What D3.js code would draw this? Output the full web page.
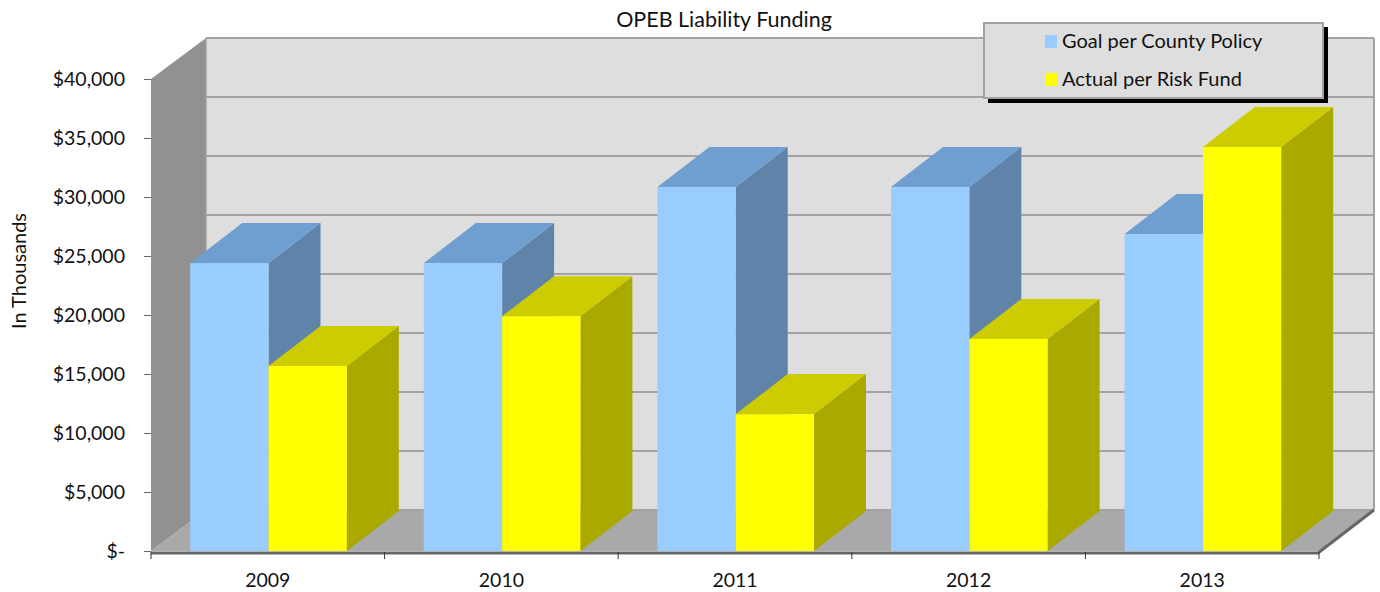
<!DOCTYPE html>
<html><head><meta charset="utf-8">
<script src="https://cdn.jsdelivr.net/npm/d3@7"></script>
<style>
html,body{margin:0;padding:0;background:#fff}
svg{display:block}
text{font-family:Lato,"Open Sans",sans-serif;fill:#111}
</style></head><body>
<svg id="c" width="1380" height="592"></svg>
<script>
const years = ["2009","2010","2011","2012","2013"];
const goal = [24400,24400,30850,30850,26860];
const actual = [15680,19900,11600,17970,34240];
const yTicks = [0,5000,10000,15000,20000,25000,30000,35000,40000];
const seriesNames = ["Goal per County Policy","Actual per Risk Fund"];
const title = "OPEB Liability Funding";
const yTitle = "In Thousands";

const svg = d3.select("#c");
const L=151,R=1319,B=551,T=79,DX=55,DY=41;
const x = d3.scaleBand().domain(years).range([L,R]);
const y = d3.scaleLinear().domain([0,40000]).range([B,T]);
const bw = 78.3, inset = 39.2, bdx = 52, bdy = 40;
const pts = a => a.map(p=>p.join(",")).join(" ");

// walls
svg.append("polygon").attr("points",pts([[L+DX,y(40000)-DY],[R+DX,y(40000)-DY],[R+DX,B-DY],[L+DX,B-DY]])).attr("fill","#dedede");
svg.append("polygon").attr("points",pts([[L,T],[L+DX,T-DY],[L+DX,B-DY],[L,B]])).attr("fill","#919191");
svg.append("polygon").attr("points",pts([[L,B],[R,B],[R+DX,B-DY],[L+DX,B-DY]])).attr("fill","#a9a9a9");
// gridlines
svg.selectAll(".g").data(yTicks).join("line")
  .attr("x1",L+DX).attr("x2",R+DX).attr("y1",d=>y(d)-DY).attr("y2",d=>y(d)-DY)
  .attr("stroke","#a3a3a3").attr("stroke-width",2);
svg.append("line").attr("x1",L+DX).attr("x2",L+DX).attr("y1",T-DY).attr("y2",B-DY).attr("stroke","#a3a3a3").attr("stroke-width",1.5);
svg.append("line").attr("x1",R+DX).attr("x2",R+DX).attr("y1",T-DY).attr("y2",B-DY).attr("stroke","#a3a3a3").attr("stroke-width",2);

function bar(g,x0,v,front,top,side){
  const x1=x0+bw, yt=y(v);
  g.append("polygon").attr("points",pts([[x1,yt],[x1+bdx,yt-bdy],[x1+bdx,B-bdy],[x1,B]])).attr("fill",side);
  g.append("polygon").attr("points",pts([[x0,yt],[x1,yt],[x1+bdx,yt-bdy],[x0+bdx,yt-bdy]])).attr("fill",top);
  g.append("rect").attr("x",x0).attr("y",yt).attr("width",bw).attr("height",B-yt).attr("fill",front);
}
years.forEach((yr,i)=>{
  const g=svg.append("g");
  const x0=x(yr)+inset;
  bar(g,x0,goal[i],"#99ccff","#6f9fd0","#5f83a9");
  bar(g,x0+bw,actual[i],"#ffff00","#cccc00","#a9a900");
});
// front floor edge
svg.append("polyline").attr("points",pts([[L,B+2],[R-1,B+2],[R+DX,B-DY]])).attr("fill","none").attr("stroke","#666").attr("stroke-width",3);

// axes
const ay=svg.append("g").attr("transform",`translate(${L},0)`)
  .call(d3.axisLeft(y).tickValues(yTicks).tickSize(7).tickPadding(19).tickFormat(d=>d===0?"$-":"$"+d3.format(",")(d)));
ay.select(".domain").remove();
ay.selectAll("line").attr("stroke","#666");
ay.selectAll("text").style("font-size","19.5px").attr("fill","#111");
const ax=svg.append("g").attr("transform",`translate(0,${B})`)
  .call(d3.axisBottom(x).tickSize(0).tickPadding(22));
ax.select(".domain").remove();
ax.selectAll("line").remove();
ax.selectAll("text").style("font-size","19.5px").attr("fill","#111");
svg.selectAll(".xt").data(d3.range(years.length+1)).join("line")
  .attr("x1",i=>L+x.bandwidth()*i).attr("x2",i=>L+x.bandwidth()*i)
  .attr("y1",B+1).attr("y2",B+8).attr("stroke","#333");

// titles
svg.append("text").attr("x",724).attr("y",27).attr("text-anchor","middle").style("font-size","21.5px").text(title);
svg.append("text").attr("transform","translate(26,271) rotate(-90)").attr("text-anchor","middle").style("font-size","20px").text(yTitle);

// legend
svg.append("rect").attr("x",988).attr("y",27).attr("width",340).attr("height",76).attr("fill","#000");
svg.append("rect").attr("x",984).attr("y",23).attr("width",339).attr("height",75).attr("fill","#dedede").attr("stroke","#a0a0a0").attr("stroke-width",2);
[["#99ccff",35],["#ffff00",73]].forEach((d,i)=>{
  svg.append("rect").attr("x",1045).attr("y",d[1]).attr("width",12).attr("height",13).attr("fill",d[0]);
  svg.append("text").attr("x",1062).attr("y",d[1]+13).style("font-size","20px").text(seriesNames[i]);
});
</script></body></html>
